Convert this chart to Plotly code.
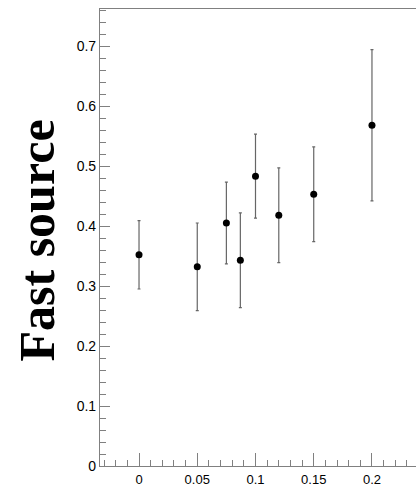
import plotly.graph_objects as go

# data
x_vals = [0.0, 0.05, 0.075, 0.087, 0.10, 0.12, 0.15, 0.20]
y_vals = [0.352, 0.332, 0.405, 0.343, 0.483, 0.418, 0.453, 0.568]
y_err = [0.057, 0.073, 0.068, 0.079, 0.070, 0.079, 0.079, 0.126]
y_title = "Fast source"

fig = go.Figure()
fig.add_trace(go.Scatter(
    x=x_vals, y=y_vals, mode="markers",
    marker=dict(color="black", size=7),
    error_y=dict(type="data", array=y_err, visible=True,
                 color="#666666", thickness=1.2, width=1.5),
    showlegend=False,
))

axis_col = "#808080"
fig.update_layout(
    width=416, height=486,
    margin=dict(l=100, r=0, t=9, b=20),
    paper_bgcolor="white", plot_bgcolor="white",
    font=dict(family="Liberation Sans, Arial, sans-serif", size=14, color="black"),
    xaxis=dict(range=[-0.0335, 0.2378], showgrid=False, zeroline=False,
               automargin=False, tickfont=dict(size=13),
               showline=True, linecolor=axis_col, linewidth=1.2, mirror=True,
               ticks="inside", ticklen=13, tickcolor=axis_col, tickwidth=1,
               tick0=0, dtick=0.05, ticklabelstandoff=1, tickangle=0,
               minor=dict(ticks="inside", ticklen=6, tickcolor=axis_col,
                          dtick=0.01, tick0=0, showgrid=False)),
    yaxis=dict(range=[0, 0.7617], showgrid=False, zeroline=False,
               automargin=False,
               showline=True, linecolor=axis_col, linewidth=1.2,
               ticks="inside", ticklen=10, tickcolor=axis_col, tickwidth=1,
               tick0=0, dtick=0.1, ticklabelstandoff=0,
               minor=dict(ticks="inside", ticklen=6, tickcolor=axis_col,
                          dtick=0.02, tick0=0, showgrid=False)),
    annotations=[dict(
        text="<b>" + y_title + "</b>", xref="paper", yref="paper",
        x=(36 - 100) / 316, y=(466 - 240.5) / 457,
        xanchor="center", yanchor="middle", textangle=-90, showarrow=False,
        font=dict(family="Liberation Serif, Times New Roman, serif",
                  size=50, color="black", weight="bold"),
    )],
)

fig.write_html("out.html")
